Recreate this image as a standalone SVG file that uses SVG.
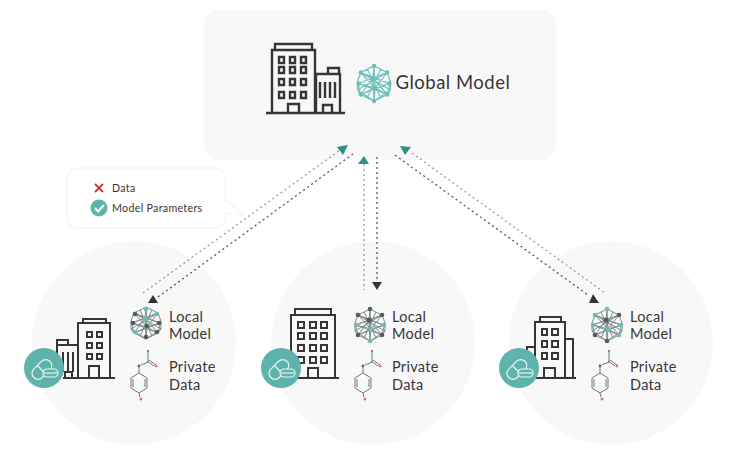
<svg xmlns="http://www.w3.org/2000/svg" width="732" height="460" viewBox="0 0 732 460">
<style>
.t{font-family:"Lato","Liberation Sans",sans-serif;fill:#3a3636;letter-spacing:.3px}
.b{fill:none;stroke:#3a3535;stroke-width:2}
.b2{fill:none;stroke:#3a3535;stroke-width:2.4}
.bg{fill:#f8f8f8}
.dk{fill:none;stroke:#5a5656;stroke-width:1.3;stroke-dasharray:2 3}
.tl{fill:none;stroke:#7fa8a4;stroke-width:1.3;stroke-dasharray:2 3}
.ha{fill:#2f8f85}
.hb{fill:#3a3032}
.nl{stroke:#7d8e8d;stroke-width:1;fill:none}
.nt{stroke:#72c2ba;stroke-width:1.1;fill:none}
.mol{stroke:#555;stroke-width:.8;fill:none}
.pill{fill:none;stroke:#e6f5f3;stroke-width:1.2}
</style>
<defs>
<g id="netl">
<path d="M0-16-12-10-15-2-12 10 0 16 12 10 15-2 12-10ZM-15 6-12 10M15 6 12 10M-15-2-15 6M15-2 15 6M0-16-1-5 12 10M0-16 1 4-12 10M-12-10-1-5 14 0M-12-10 1 4 12-10M12-10-1-5-14 0M-14 0 1 4 14 0M-12 10-1-5M12 10 1 4M0 16 1 4M0 16-1-5M-14 0 12-10M14 0-12-10M-12 10 14 0M12 10-14 0M-15 6 12-10M15 6-12-10M-15 6 0 16M15 6 0 16M-6-13 6 13M6-13-6 13"/>
</g>
<g id="mol">
<path class="mol" d="M0-10V0M-1-1 6 4M1-2 8 3M0 0-7 3M-9 5-9 11M-9 11-1 16V26L-9 31-17 26V16ZM-3 17V25M-15 17V25M-9 31-8 35"/>
<circle cx="0" cy="-11" r="1.100" fill="#666"/>
<circle cx="8" cy="4" r="1.400" fill="#d9737c"/>
<circle cx="-9" cy="4" r="1.400" fill="#5560a8"/>
<circle cx="-7" cy="37" r="1.500" fill="#d9737c"/>
</g>
<g id="pill">
<g transform="rotate(-45)" class="pill"><rect x="-14" y="-6.500" width="23" height="12" rx="6"/><path d="M-3-6.500V5.500"/></g>
<rect class="pill" x="-1" y="1" width="15" height="8" rx="4" style="fill:#5fb3ad"/>
<path class="pill" d="M0 5H13"/>
</g>
</defs>

<g id="global-model">
<rect class="bg" x="204" y="10" width="352" height="150" rx="14"/>
<path class="b2" d="M266 113H345M272 113V50H315V113M275 50V44H312V50M316 113V74H340V113M328 74V68H339V74M320 82V98M325 82V98M330 82V98M335 82V98M288 113V104H299V113M323 113V105H332V113"/>
<path class="b2" d="M279 57h5v6h-5zM290 57h5v6h-5zM301 57h5v6h-5zM279 67h5v6h-5zM290 67h5v6h-5zM301 67h5v6h-5zM279 79h5v6h-5zM290 79h5v6h-5zM301 79h5v6h-5zM279 92h5v6h-5zM290 92h5v6h-5zM301 92h5v6h-5z"/>
<g transform="translate(374 83.500) scale(1.100)"><use href="#netl" class="nt"/><g fill="#6dbdb5"><circle cy="-16" r="2"/><circle cx="-12" cy="-10" r="2"/><circle cx="12" cy="-10" r="2"/><circle cx="-14" r="2"/><circle cx="14" r="2"/><circle cx="-12" cy="10" r="2"/><circle cx="12" cy="10" r="2"/><circle cy="16" r="2"/><circle cx="-1" cy="-5" r="2"/><circle cx="1" cy="4" r="2"/></g></g>
<text class="t" x="395.500" y="89" font-size="18.500" style="letter-spacing:.5px">Global Model</text>
</g>

<g id="legend">
<path d="M77 168H215a10 10 0 0 1 10 10V199L243 215L225 213V218a10 10 0 0 1-10 10H77a10 10 0 0 1-10-10V178a10 10 0 0 1 10-10Z" fill="#fff" stroke="#f8f8f8" stroke-width="2"/>
<path d="M95 184L103 192M103 184L95 192" stroke="#d2322d" stroke-width="1.800" fill="none"/>
<text class="t" x="112" y="192" font-size="10.700">Data</text>
<circle cx="99" cy="208" r="8.500" fill="#5fb3ad"/>
<path d="M95 208L98 211.500L104 205" stroke="#fff" stroke-width="2" fill="none"/>
<text class="t" x="112" y="212" font-size="10.700">Model Parameters</text>
</g>

<g id="local-1">
<circle class="bg" cx="134" cy="343" r="102"/>
<path class="b" d="M63 378H115M78 378V323H110V378M83 323V319H106V323M57 378V345H78M57 345V340H68V345M63 352V372M68 352V372M73 352V372M89 378V366H99V378M65 378V372H72V378M87 332h5v5h-5zM97 332h5v5h-5zM87 343h5v5h-5zM97 343h5v5h-5zM87 354h5v5h-5zM97 354h5v5h-5z"/>
<circle cx="44" cy="368" r="20" fill="#5fb3ad"/><use href="#pill" x="44" y="368"/>
<g transform="translate(146 323)"><use href="#netl" class="nl"/><g fill="#5a5a5a"><circle cy="-14" r="2.300" fill="#6dbdb5"/><circle cx="-11" cy="-9" r="2.300"/><circle cx="11" cy="-9" r="2.300" fill="#6dbdb5"/><circle cx="-13" r="2.300"/><circle cx="13" r="2.300"/><circle cx="-11" cy="9" r="2.300" fill="#6dbdb5"/><circle cx="11" cy="9" r="2.300"/><circle cy="14" r="2.300"/><circle cx="-1" cy="-4" r="2.600" fill="#6dbdb5"/><circle cx="1" cy="3" r="2.300"/></g></g>
<use href="#mol" x="148" y="362"/>
<text class="t" x="169" y="322" font-size="14.500">Local</text><text class="t" x="169" y="339" font-size="14.500">Model</text>
<text class="t" x="169" y="372" font-size="14.500">Private</text><text class="t" x="169" y="390" font-size="14.500">Data</text>
</g>

<g id="local-2">
<circle class="bg" cx="373" cy="343" r="102"/>
<path class="b" d="M265 378H339M291 378V315H335V378M295 315V309H331V315M308 378V368H318V378M298 322h6v6h-6zM310 322h6v6h-6zM321 322h6v6h-6zM298 333h6v6h-6zM310 333h6v6h-6zM321 333h6v6h-6zM298 345h6v6h-6zM310 345h6v6h-6zM321 345h6v6h-6zM298 357h6v6h-6zM310 357h6v6h-6zM321 357h6v6h-6z"/>
<circle cx="281" cy="368" r="20" fill="#5fb3ad"/><use href="#pill" x="281" y="368"/>
<g transform="translate(370 325)"><use href="#netl" class="nl"/><g fill="#5a5a5a"><circle cy="-16" r="2.300"/><circle cx="-12" cy="-10" r="2.300"/><circle cx="12" cy="-10" r="2.300"/><circle cx="-14" r="2.300" fill="#6dbdb5"/><circle cx="14" r="2.300" fill="#6dbdb5"/><circle cx="-12" cy="10" r="2.300"/><circle cx="12" cy="10" r="2.300"/><circle cy="16" r="2.300" fill="#6dbdb5"/><circle cx="-1" cy="-5" r="2.600"/><circle cx="1" cy="4" r="2.300" fill="#6dbdb5"/></g></g>
<use href="#mol" x="372" y="362"/>
<text class="t" x="392" y="322" font-size="14.500">Local</text><text class="t" x="392" y="339" font-size="14.500">Model</text>
<text class="t" x="392" y="372" font-size="14.500">Private</text><text class="t" x="392" y="390" font-size="14.500">Data</text>
</g>

<g id="local-3">
<circle class="bg" cx="611" cy="343" r="102"/>
<path class="b" d="M510 378H576M535 378V322H565V378M540 322V317H561V322M565 339H573V378M535 347H527V360M544 378V368H555V378M542 329h5v6h-5zM552 329h6v6h-6zM542 341h5v6h-5zM552 341h6v6h-6zM542 353h5v6h-5zM552 353h6v6h-6z"/>
<circle cx="519" cy="368" r="20" fill="#5fb3ad"/><use href="#pill" x="519" y="368"/>
<g transform="translate(607 325)"><use href="#netl" class="nl"/><g fill="#5a5a5a"><circle cy="-16" r="2.300" fill="#6dbdb5"/><circle cx="-12" cy="-10" r="2.300" fill="#6dbdb5"/><circle cx="12" cy="-10" r="2.300"/><circle cx="-14" r="2.300" fill="#6dbdb5"/><circle cx="14" r="2.300" fill="#6dbdb5"/><circle cx="-12" cy="10" r="2.300"/><circle cx="12" cy="10" r="2.300" fill="#6dbdb5"/><circle cy="16" r="2.300"/><circle cx="-1" cy="-5" r="2.600"/><circle cx="1" cy="4" r="2.300" fill="#6dbdb5"/></g></g>
<use href="#mol" x="609" y="362"/>
<text class="t" x="630" y="322" font-size="14.500">Local</text><text class="t" x="630" y="339" font-size="14.500">Model</text>
<text class="t" x="630" y="372" font-size="14.500">Private</text><text class="t" x="630" y="390" font-size="14.500">Data</text>
</g>

<g id="connectors">
<path class="tl" d="M143 293L340 150"/>
<path class="dk" d="M158 297L353 154"/>
<path class="tl" d="M364 164V290"/>
<path class="dk" d="M377 157V284"/>
<path class="tl" d="M412 153L605 293"/>
<path class="dk" d="M395 155L588 295"/>
<path class="ha" d="M337 147L348 145L343 155Z"/>
<path class="hb" d="M148 303L158 303L153 295Z"/>
<path class="ha" d="M358 164H369L364 156Z"/>
<path class="hb" d="M372 282H382L377 290Z"/>
<path class="ha" d="M400 146L411 147L405 155Z"/>
<path class="hb" d="M589 303H599L593 294Z"/>
</g>
</svg>
